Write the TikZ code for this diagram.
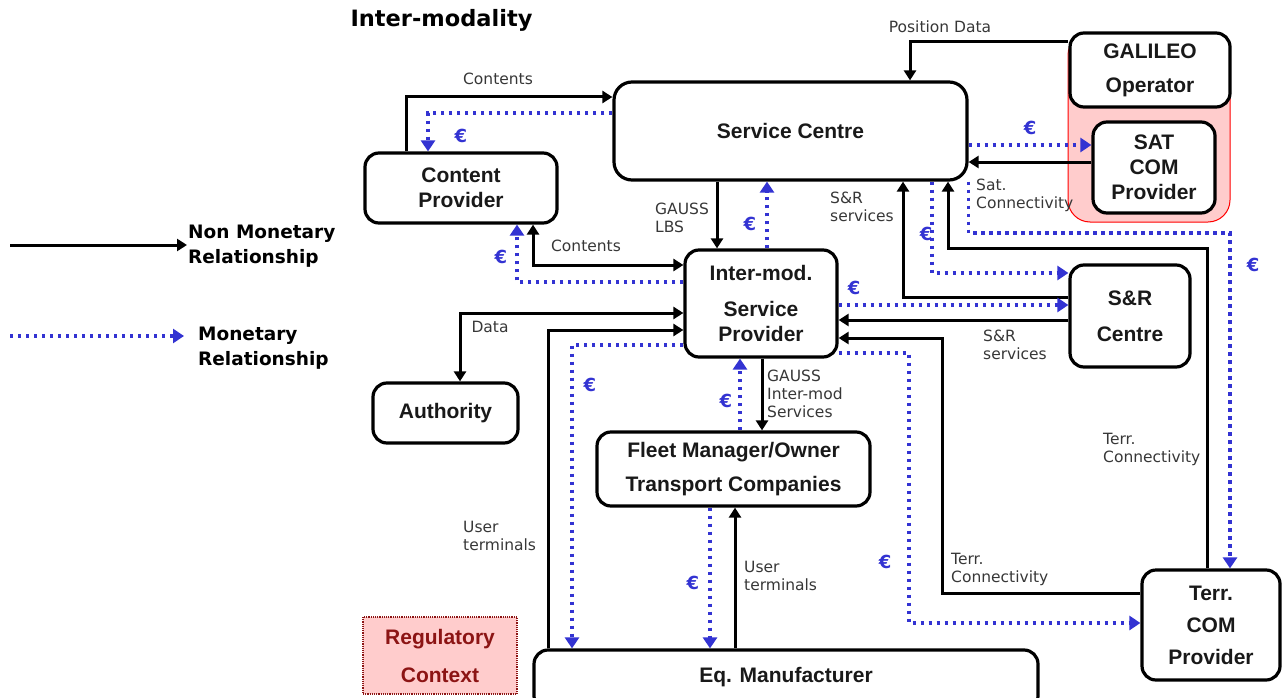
\documentclass[tikz,border=0pt]{standalone}
\usepackage{fontspec}
\setmainfont{Liberation Sans}
\newfontfamily\dv{DejaVu Sans}
\usetikzlibrary{arrows.meta}
\definecolor{mblue}{RGB}{51,51,210}
\definecolor{labgray}{RGB}{55,55,55}
\definecolor{pinkf}{RGB}{255,204,204}
\definecolor{regred}{RGB}{140,20,20}
\newcommand\boxfont{\fontsize{21}{25}\selectfont\bfseries}
\newcommand\labfont{\dv\fontsize{15.5}{18}\selectfont}
\newcommand\eurofont{\dv\bfseries\fontsize{18}{20}\selectfont}
\newcommand\legfont{\dv\bfseries\fontsize{18.5}{25}\selectfont}
\tikzset{
 box/.style={draw=black, line width=3.2pt, rounded corners=14pt, fill=white, align=center,
   font=\boxfont, inner sep=0pt, text=black!90},
 nm/.style={line width=3pt, -{Triangle[length=10pt,width=12pt]}},
 nmb/.style={line width=3pt, {Triangle[length=10pt,width=12pt]}-{Triangle[length=10pt,width=12pt]}},
 mo/.style={draw=mblue, line width=3.6pt, dash pattern=on 3.4pt off 4.6pt,
   -{Triangle[length=11pt,width=14pt]}, mblue},
 lab/.style={font=\labfont, text=labgray, align=left, inner sep=0pt},
 euro/.style={font=\eurofont, text=mblue, inner sep=0pt},
}
\begin{document}
\begin{tikzpicture}[x=1pt,y=-1pt]
\useasboundingbox (0,0) rectangle (1284,698);
% title
\node[font=\dv\bfseries\fontsize{22.5}{26}\selectfont, inner sep=0pt] (title) at (441.5,20) {Inter-modality};
% pink region
\fill[pinkf, draw=red, line width=1pt, rounded corners=22pt] (1068,33) rectangle (1230,222);
% boxes
\node[box, rounded corners=18pt, minimum width=353pt, minimum height=98pt] (sc) at (790.5,131) {Service Centre};
\node[box, minimum width=160pt, minimum height=74pt] (gal) at (1150,70) {GALILEO\\[9pt]Operator};
\node[box, minimum width=122pt, minimum height=91pt] (sat) at (1154,167.5) {SAT\\COM\\Provider};
\node[box, minimum width=192pt, minimum height=70pt] (cp) at (461,188) {Content\\Provider};
\node[box, minimum width=152pt, minimum height=107pt] (ims) at (761,303.5) {Inter-mod.\\[11pt]Service\\Provider};
\node[box, minimum width=120pt, minimum height=102pt] (sr) at (1130,316) {S\&R\\[11pt]Centre};
\node[box, minimum width=145pt, minimum height=60pt] (auth) at (445.5,413) {Authority};
\node[box, minimum width=273pt, minimum height=74pt] (fleet) at (733.5,469) {Fleet Manager/Owner\\[9pt]Transport Companies};
\node[draw=regred, densely dotted, line width=1.2pt, fill=pinkf, text=regred, font=\boxfont,
  align=center, inner sep=0pt, minimum width=154pt, minimum height=77pt] (reg) at (440,655.5) {Regulatory\\[13pt]Context};
\node[box, minimum width=504pt, minimum height=60pt] (eq) at (786,680) {};
\node[font=\boxfont, text=black!90, inner sep=0pt] (eqt) at (786,677) {Eq. Manufacturer};
\node[box, minimum width=138pt, minimum height=110pt] (terr) at (1211,625) {Terr.\\[7pt]COM\\[7pt]Provider};
% legend
\node[font=\legfont, align=left, inner sep=0pt, anchor=west] (leg1) at (188,246) {Non Monetary\\Relationship};
\node[font=\legfont, align=left, inner sep=0pt, anchor=west] (leg2) at (198,348) {Monetary\\Relationship};
\coordinate (l1) at (10,245);
\coordinate (l2) at (10,336);
\draw[nm, shorten >=1pt] (l1) -- (leg1.west |- 0,245);
\draw[mo, shorten >=14pt] (l2) -- (leg2.west |- 0,336);
% connectors
\draw[nm] (cp.north -| 406,0) |- (sc.west |- 0,97);
\draw[mo] (sc.west |- 0,113) -| (cp.north -| 428,0);
\draw[nmb] (ims.west |- 0,265) -| (cp.south -| 533,0);
\draw[mo] (ims.west |- 0,282) -| (cp.south -| 517,0);
\draw[nm] (sc.south -| 717,0) -- (ims.north -| 717,0);
\draw[mo] (ims.north -| 767,0) -- (sc.south -| 767,0);
\draw[nm] (sr.west |- 0,297) -| (sc.south -| 903,0);
\draw[mo] (sc.south -| 932,0) |- (sr.west |- 0,273);
\draw[nm] (sat.west |- 0,162) -- (sc.east |- 0,162);
\draw[mo] (sc.east |- 0,145) -- (sat.west |- 0,145);
\draw[nm] (gal.west |- 0,42) -| (sc.north -| 910,0);
\draw[nm] (terr.north -| 1207,0) -- (1207,248) -| (sc.south -| 948,0);
\draw[mo] (sc.south east) -- (sc.south east |- 0,233) -| (terr.north -| 1230,0);
\draw[mo] (ims.east |- 0,305) -- (sr.west |- 0,305);
\draw[nm] (sr.west |- 0,320) -- (ims.east |- 0,320);
\draw[nm] (terr.west |- 0,593) -| (942,338) -- (ims.east |- 0,338);
\draw[mo] (ims.east |- 0,353) -| (909,623) -- (terr.west |- 0,623);
\draw[nmb] (ims.west |- 0,313) -| (auth.north -| 460,0);
\draw[nm] (eq.north -| 548,0) |- (ims.west |- 0,330);
\draw[mo] (ims.west |- 0,345) -| (eq.north -| 572,0);
\draw[nm] (ims.south -| 762,0) -- (fleet.north -| 762,0);
\draw[mo] (fleet.north -| 740,0) -- (ims.south -| 740,0);
\draw[nm] (eq.north -| 735,0) -- (fleet.south -| 735,0);
\draw[mo] (fleet.south -| 710,0) -- (eq.north -| 710,0);
% labels
\node[lab] (t1) at (498,79) {Contents};
\node[lab] (t2) at (586,246) {Contents};
\node[lab, anchor=west] (t3) at (655,218) {GAUSS\\LBS};
\node[lab, anchor=west] (t4) at (830,207) {S\&R\\services};
\node[lab] (t5) at (940,27) {Position Data};
\node[lab, anchor=west] (t6) at (976,195) {Sat.\\Connectivity};
\node[lab, anchor=west] (t7) at (983,345) {S\&R\\services};
\node[lab, anchor=west] (t8) at (1103,449) {Terr.\\Connectivity};
\node[lab, anchor=west] (t9) at (951,569) {Terr.\\Connectivity};
\node[lab] (t10) at (490,327) {Data};
\node[lab, anchor=west] (t11) at (463,536) {User\\terminals};
\node[lab, anchor=west] (t12) at (767,394) {GAUSS\\Inter-mod\\Services};
\node[lab, anchor=west] (t13) at (744,576) {User\\terminals};
% euros
\node[euro] (e1) at (461,136) {€};
\node[euro] (e2) at (501,257) {€};
\node[euro] (e3) at (750,224) {€};
\node[euro] (e4) at (926,234) {€};
\node[euro] (e5) at (1030,128) {€};
\node[euro] (e6) at (1253,265) {€};
\node[euro] (e7) at (854,288) {€};
\node[euro] (e8) at (590,385) {€};
\node[euro] (e9) at (726,401) {€};
\node[euro] (e10) at (693,583) {€};
\node[euro] (e11) at (885,562) {€};
\end{tikzpicture}
\end{document}
